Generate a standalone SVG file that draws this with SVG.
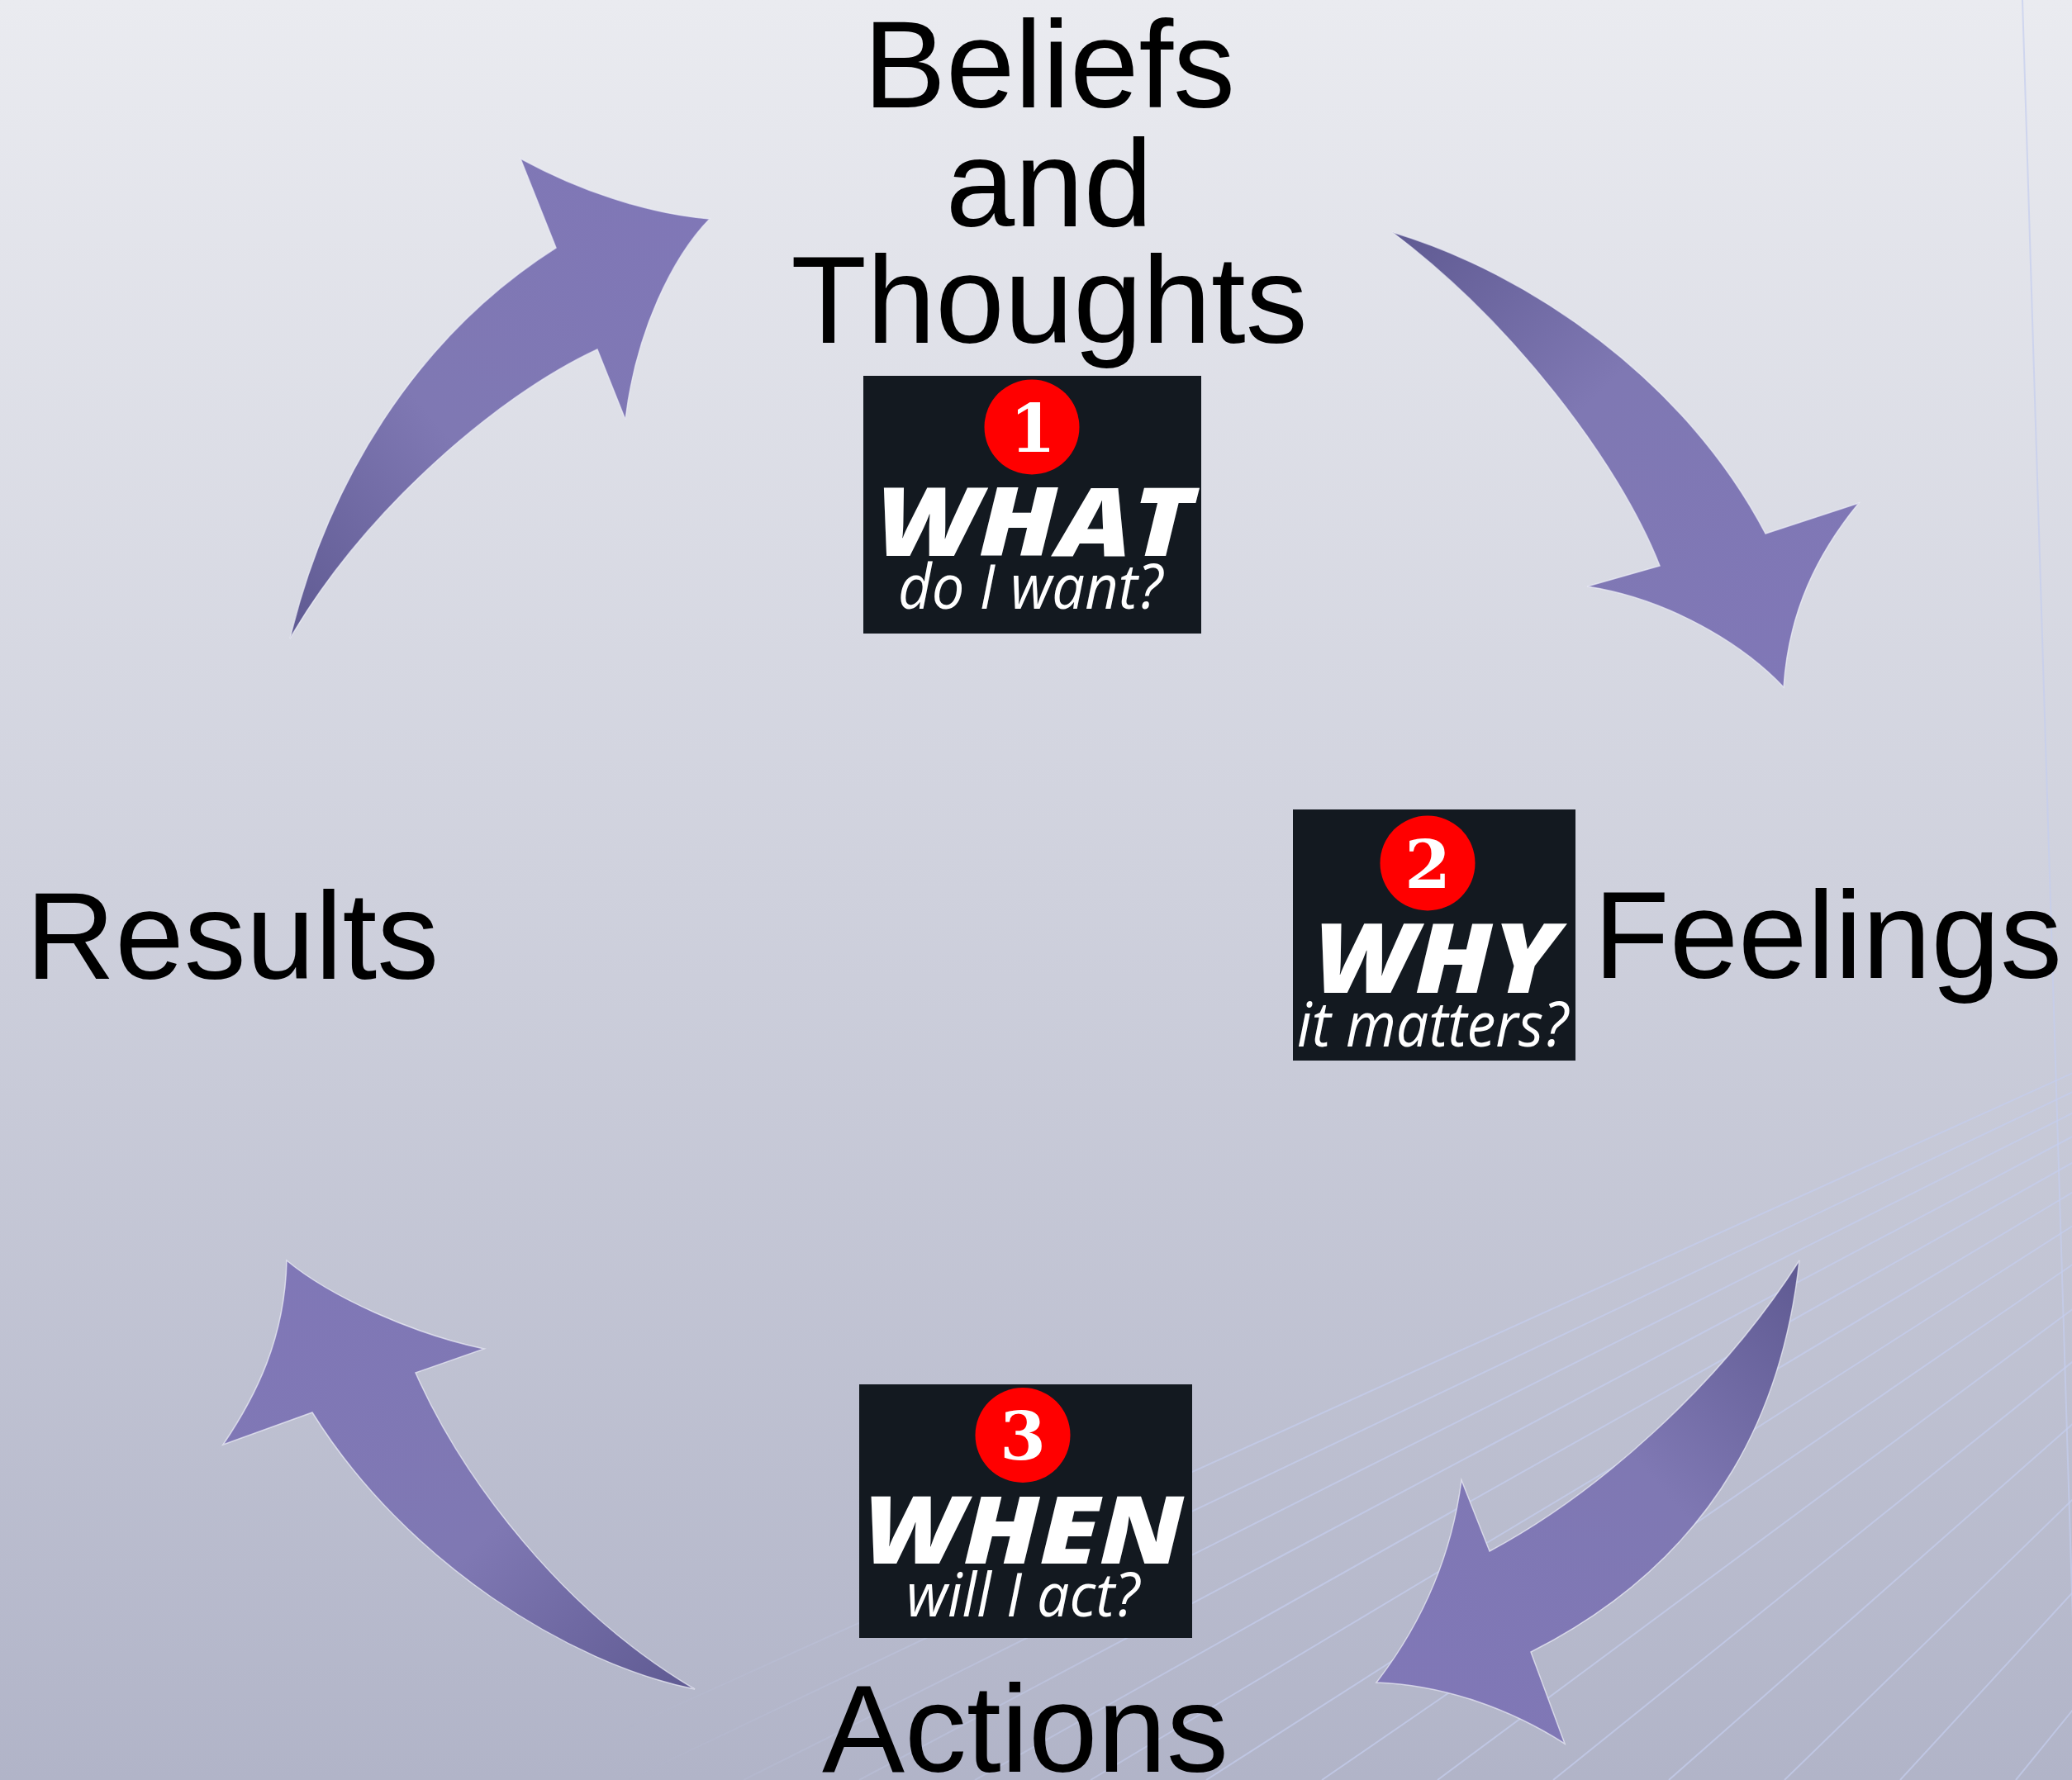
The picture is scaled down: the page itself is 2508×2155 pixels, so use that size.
<svg xmlns="http://www.w3.org/2000/svg" width="2508" height="2155" viewBox="0 0 2508 2155">
<defs>
<linearGradient id="bg" x1="0" y1="0" x2="0" y2="1">
<stop offset="0" stop-color="#eaebf0"/>
<stop offset="0.5" stop-color="#cfd1dd"/>
<stop offset="1" stop-color="#b1b4c8"/>
</linearGradient>
<linearGradient id="fade" x1="0" y1="0" x2="1" y2="0">
<stop offset="0.3" stop-color="#000"/>
<stop offset="0.6" stop-color="#fff"/>
</linearGradient>
<mask id="lineMask"><rect width="2508" height="2155" fill="url(#fade)"/></mask>
<linearGradient id="g1" x1="0" y1="1" x2="1" y2="0"><stop offset="0" stop-color="#5f5a92"/><stop offset="0.4" stop-color="#7f78b3"/><stop offset="1" stop-color="#8077b7"/></linearGradient>
<linearGradient id="g2" x1="0" y1="0" x2="1" y2="1"><stop offset="0" stop-color="#5f5a92"/><stop offset="0.4" stop-color="#7f78b3"/><stop offset="1" stop-color="#8077b7"/></linearGradient>
<linearGradient id="g3" x1="1" y1="0" x2="0" y2="1"><stop offset="0" stop-color="#5f5a92"/><stop offset="0.4" stop-color="#7f78b3"/><stop offset="1" stop-color="#8077b7"/></linearGradient>
<linearGradient id="g4" x1="1" y1="1" x2="0" y2="0"><stop offset="0" stop-color="#5f5a92"/><stop offset="0.4" stop-color="#7f78b3"/><stop offset="1" stop-color="#8077b7"/></linearGradient>
<style>
.lbl{font-family:"Liberation Sans",Arial,sans-serif;font-size:150px;fill:#000}
.box{fill:#131920}
.badge{fill:#ff0000}
.num{font-family:"DejaVu Serif",serif;font-weight:bold;font-size:80px;fill:#fff;text-anchor:middle}
.big{font-family:"Open Sans","Noto Sans",sans-serif;font-weight:800;font-style:italic;fill:#fff}
.small{font-family:"Open Sans","Noto Sans",sans-serif;font-style:italic;fill:#fff}
.arrow{stroke:#eef0f8;stroke-width:1.5;stroke-opacity:0.7}
.bgl{stroke:#c4cdee;stroke-width:2;fill:none;stroke-opacity:0.7}
</style>
</defs>
<rect width="2508" height="2155" fill="url(#bg)"/>
<g id="background-lines" class="bgl">
<line x1="2448" y1="0" x2="2515" y2="2155"/>
<g mask="url(#lineMask)">
<line x1="3500" y1="850" x2="620" y2="2155"/>
<line x1="3500" y1="850" x2="760" y2="2155"/>
<line x1="3500" y1="850" x2="900" y2="2155"/>
<line x1="3500" y1="850" x2="1040" y2="2155"/>
<line x1="3500" y1="850" x2="1180" y2="2155"/>
<line x1="3500" y1="850" x2="1320" y2="2155"/>
<line x1="3500" y1="850" x2="1460" y2="2155"/>
<line x1="3500" y1="850" x2="1600" y2="2155"/>
<line x1="3500" y1="850" x2="1740" y2="2155"/>
<line x1="3500" y1="850" x2="1880" y2="2155"/>
<line x1="3500" y1="850" x2="2020" y2="2155"/>
<line x1="3500" y1="850" x2="2160" y2="2155"/>
<line x1="3500" y1="850" x2="2300" y2="2155"/>
<line x1="3500" y1="850" x2="2440" y2="2155"/>
</g>
</g>
<g id="connectors">
<path id="arrow-results-beliefs" class="arrow" fill="url(#g1)" d="M351,773 C395,590 500,410 673,300 L630,192 C700,230 780,258 859,265 C815,310 770,400 757,508 L723,423 C600,480 440,620 351,773 Z"/>
<path id="arrow-beliefs-feelings" class="arrow" fill="url(#g2)" d="M1685,281 C1850,330 2040,460 2137,646 L2250,609 C2200,670 2165,740 2159,832 C2110,780 2020,725 1921,710 L2009,685 C1960,560 1830,390 1685,281 Z"/>
<path id="arrow-feelings-actions" class="arrow" fill="url(#g3)" d="M2178,1526 C2160,1690 2090,1880 1853,2000 L1894,2111 C1830,2070 1750,2040 1666,2037 C1710,1980 1755,1900 1769,1792 L1803,1878 C1930,1810 2080,1680 2178,1526 Z"/>
<path id="arrow-actions-results" class="arrow" fill="url(#g4)" d="M841,2045 C690,2015 490,1890 378,1710 L270,1749 C310,1690 345,1620 347,1526 C400,1570 500,1615 586,1633 L503,1662 C560,1790 680,1950 841,2045 Z"/>
</g>
<g id="node-beliefs">
<text class="lbl" x="1270" y="130" text-anchor="middle">Beliefs</text>
<text class="lbl" x="1270" y="274" text-anchor="middle">and</text>
<text class="lbl" x="1270" y="415" text-anchor="middle">Thoughts</text>
</g>
<g id="node-feelings">
<text class="lbl" x="1929" y="1184">Feelings</text>
</g>
<g id="node-actions">
<text class="lbl" x="995" y="2145">Actions</text>
</g>
<g id="node-results">
<text class="lbl" x="31" y="1185">Results</text>
</g>
<g id="badge-what">
<rect class="box" x="1045" y="455" width="409" height="312"/>
<circle class="badge" cx="1249" cy="517" r="57.5"/>
<text class="num" x="1250" y="547">1</text>
<text class="big" x="1060" y="673" font-size="115" textLength="384" lengthAdjust="spacingAndGlyphs">WHAT</text>
<text class="small" x="1087" y="737" font-size="75" textLength="320" lengthAdjust="spacingAndGlyphs">do I want?</text>
</g>
<g id="badge-why">
<rect class="box" x="1565" y="980" width="342" height="304"/>
<circle class="badge" cx="1728" cy="1045" r="57.5"/>
<text class="num" x="1728" y="1075">2</text>
<text class="big" x="1590" y="1202" font-size="117" textLength="296" lengthAdjust="spacingAndGlyphs">WHY</text>
<text class="small" x="1570" y="1267" font-size="75" textLength="328" lengthAdjust="spacingAndGlyphs">it matters?</text>
</g>
<g id="badge-when">
<rect class="box" x="1040" y="1676" width="403" height="307"/>
<circle class="badge" cx="1238" cy="1737.5" r="57.5"/>
<text class="num" x="1238" y="1767">3</text>
<text class="big" x="1045" y="1893" font-size="113" textLength="388" lengthAdjust="spacingAndGlyphs">WHEN</text>
<text class="small" x="1097" y="1957" font-size="73" textLength="282" lengthAdjust="spacingAndGlyphs">will I act?</text>
</g>
</svg>
